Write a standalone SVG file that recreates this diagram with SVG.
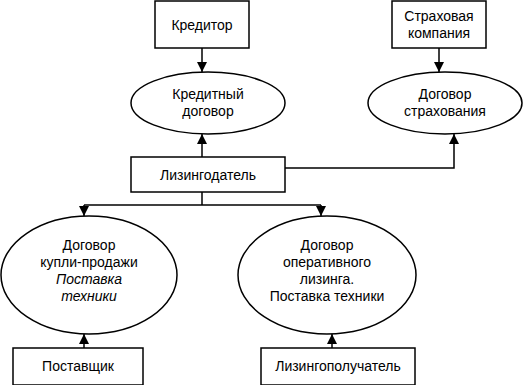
<svg xmlns="http://www.w3.org/2000/svg" width="529" height="385" viewBox="0 0 529 385">
<defs>
<marker id="ah" viewBox="0 0 10 10" refX="10" refY="5" markerWidth="10" markerHeight="10" markerUnits="userSpaceOnUse" orient="auto">
<path d="M0,0 L10,5 L0,10 z" fill="#000"/>
</marker>
</defs>
<style>
.b{fill:#fff;stroke:#000;stroke-width:1.5}
.t{font-family:"Liberation Sans",Arial,sans-serif;font-size:14px;text-anchor:middle;fill:#000}
.i{font-style:italic}
.c{fill:none;stroke:#000;stroke-width:1.5}
</style>
<rect width="529" height="385" fill="#fff"/>
<g id="connectors">
<path class="c" d="M202,48 V72" marker-end="url(#ah)"/>
<path class="c" d="M439,48 V72" marker-end="url(#ah)"/>
<path class="c" d="M202,157 V134" marker-end="url(#ah)"/>
<path class="c" d="M285,168 H454 V134" marker-end="url(#ah)"/>
<path class="c" d="M202,192 V205"/>
<path class="c" d="M84,205 H321"/>
<path class="c" d="M84,205 V216" marker-end="url(#ah)"/>
<path class="c" d="M321,205 V216" marker-end="url(#ah)"/>
<path class="c" d="M84,348 V334" marker-end="url(#ah)"/>
<path class="c" d="M332,348 V334" marker-end="url(#ah)"/>
</g>
<g id="kreditor">
<rect class="b" x="155" y="1" width="94" height="47"/>
<text class="t" x="202" y="30">Кредитор</text>
</g>
<g id="strakh">
<rect class="b" x="392" y="1" width="94" height="47"/>
<text class="t" x="439" y="21">Страховая</text>
<text class="t" x="439" y="38">компания</text>
</g>
<g id="kred-dog">
<ellipse class="b" cx="208" cy="103" rx="77" ry="31"/>
<text class="t" x="208" y="99">Кредитный</text>
<text class="t" x="208" y="116">договор</text>
</g>
<g id="strakh-dog">
<ellipse class="b" cx="445" cy="103" rx="77" ry="31"/>
<text class="t" x="445" y="99">Договор</text>
<text class="t" x="445" y="116">страхования</text>
</g>
<g id="lizingodatel">
<rect class="b" x="131" y="157" width="154" height="35"/>
<text class="t" x="208" y="180">Лизингодатель</text>
</g>
<g id="kupli">
<ellipse class="b" cx="89" cy="275" rx="88" ry="59"/>
<text class="t" x="89" y="250">Договор</text>
<text class="t" x="89" y="267">купли-продажи</text>
<text class="t i" x="89" y="284">Поставка</text>
<text class="t i" x="89" y="301">техники</text>
</g>
<g id="operat">
<ellipse class="b" cx="327" cy="275" rx="89" ry="59"/>
<text class="t" x="327" y="250">Договор</text>
<text class="t" x="327" y="267">оперативного</text>
<text class="t" x="327" y="284">лизинга.</text>
<text class="t" x="327" y="301">Поставка техники</text>
</g>
<g id="postavshik">
<rect class="b" x="13" y="348" width="130" height="37"/>
<text class="t" x="78" y="371">Поставщик</text>
</g>
<g id="lizingopoluch">
<rect class="b" x="261" y="348" width="154" height="37"/>
<text class="t" x="338" y="371">Лизингополучатель</text>
</g>
</svg>
